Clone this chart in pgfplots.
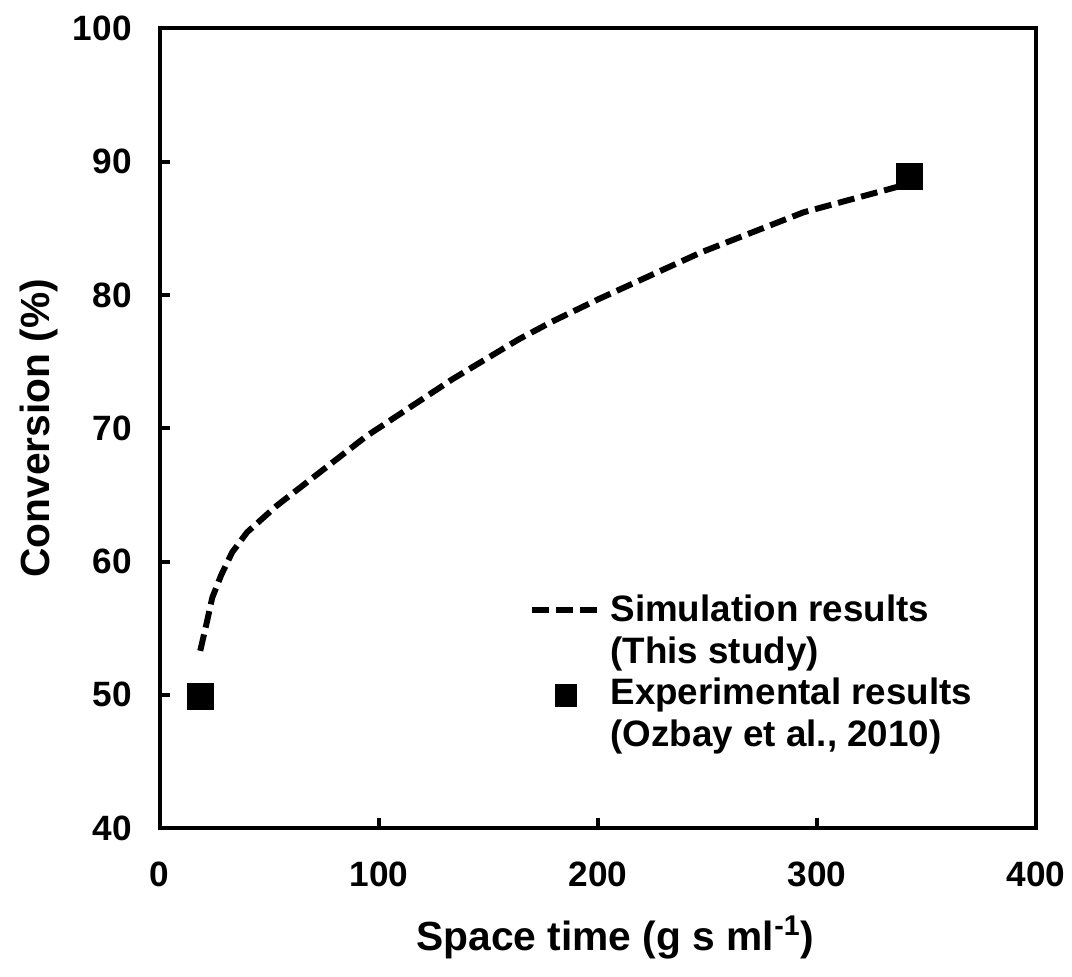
\documentclass[border=0pt]{standalone}
\usepackage{fontspec}
\setmainfont{Liberation Sans}
\usepackage{pgfplots}
\pgfplotsset{compat=1.18}
\begin{document}
\begin{tikzpicture}
\begin{axis}[
  width=441pt, height=402.5pt, scale only axis,
  xmin=0, xmax=400, ymin=40, ymax=100,
  xtick={0,100,200,300,400}, ytick={40,50,60,70,80,90,100},
  tick pos=left, tick align=inside,
  major tick length=5pt,
  tick style={black, line width=2pt},
  axis line style={line width=2pt},
  /pgf/number format/assume math mode=true,
  tick label style={font=\fontsize{17.7}{20}\selectfont\bfseries},
  yticklabel style={xshift=-10.6pt, inner ysep=8pt},
  xticklabel style={yshift=-13.6pt},
  xlabel={Space time (g s ml\textsuperscript{-1})},
  ylabel={Conversion (\%)},
  every axis x label/.style={at={(axis description cs:0.52,-0.1528)}, anchor=base, inner sep=9pt, font=\fontsize{20.5}{24}\selectfont\bfseries},
  every axis y label/.style={at={(axis description cs:-0.1259,0.5)}, anchor=base, rotate=90, inner sep=10pt, font=\fontsize{20.5}{24}\selectfont\bfseries},
  legend cell align=left,
  legend style={at={(axis description cs:0.4215,0.2919)}, anchor=north west,
    draw=none, fill=none, inner sep=0pt, outer sep=0pt,
    row sep=3.5pt, column sep=5pt,
    font=\fontsize{18.5}{22}\selectfont\bfseries,
    nodes={inner sep=0pt, text height=13.5pt, text depth=4pt}},
]
\addplot[black, line width=3pt, dash pattern=on 8.5pt off 3.5pt, forget plot] coordinates {
 (18.5,53.3) (21.3,55.3) (24.0,57.3) (28.1,59.0) (33.1,60.7) (39.9,62.2)
 (53.5,64.2) (94.3,69.4) (133.8,73.7) (164.2,76.7) (179.1,78.0)
 (200.5,79.7) (247.2,83.2) (293.9,86.2) (336.5,88.1) (341,88.5)
};
\addplot[only marks, mark=square*, mark size=6.5pt, mark options={black, fill=black, line width=0.3pt}, forget plot] coordinates {
 (18.4,49.9) (342,88.9)
};
\addlegendimage{legend image code/.code={\draw[black, line width=3pt, dash pattern=on 8.5pt off 3.5pt] (0pt,1.25pt) -- (33pt,1.25pt);}}
\addlegendentry{Simulation results}
\addlegendimage{empty legend}
\addlegendentry{(This study)}
\addlegendimage{legend image code/.code={\fill[black] (11.5pt,-5.5pt) rectangle (22.5pt,5.5pt);}}
\addlegendentry{Experimental results}
\addlegendimage{empty legend}
\addlegendentry{(Ozbay et al., 2010)}
\end{axis}
\end{tikzpicture}
\end{document}
